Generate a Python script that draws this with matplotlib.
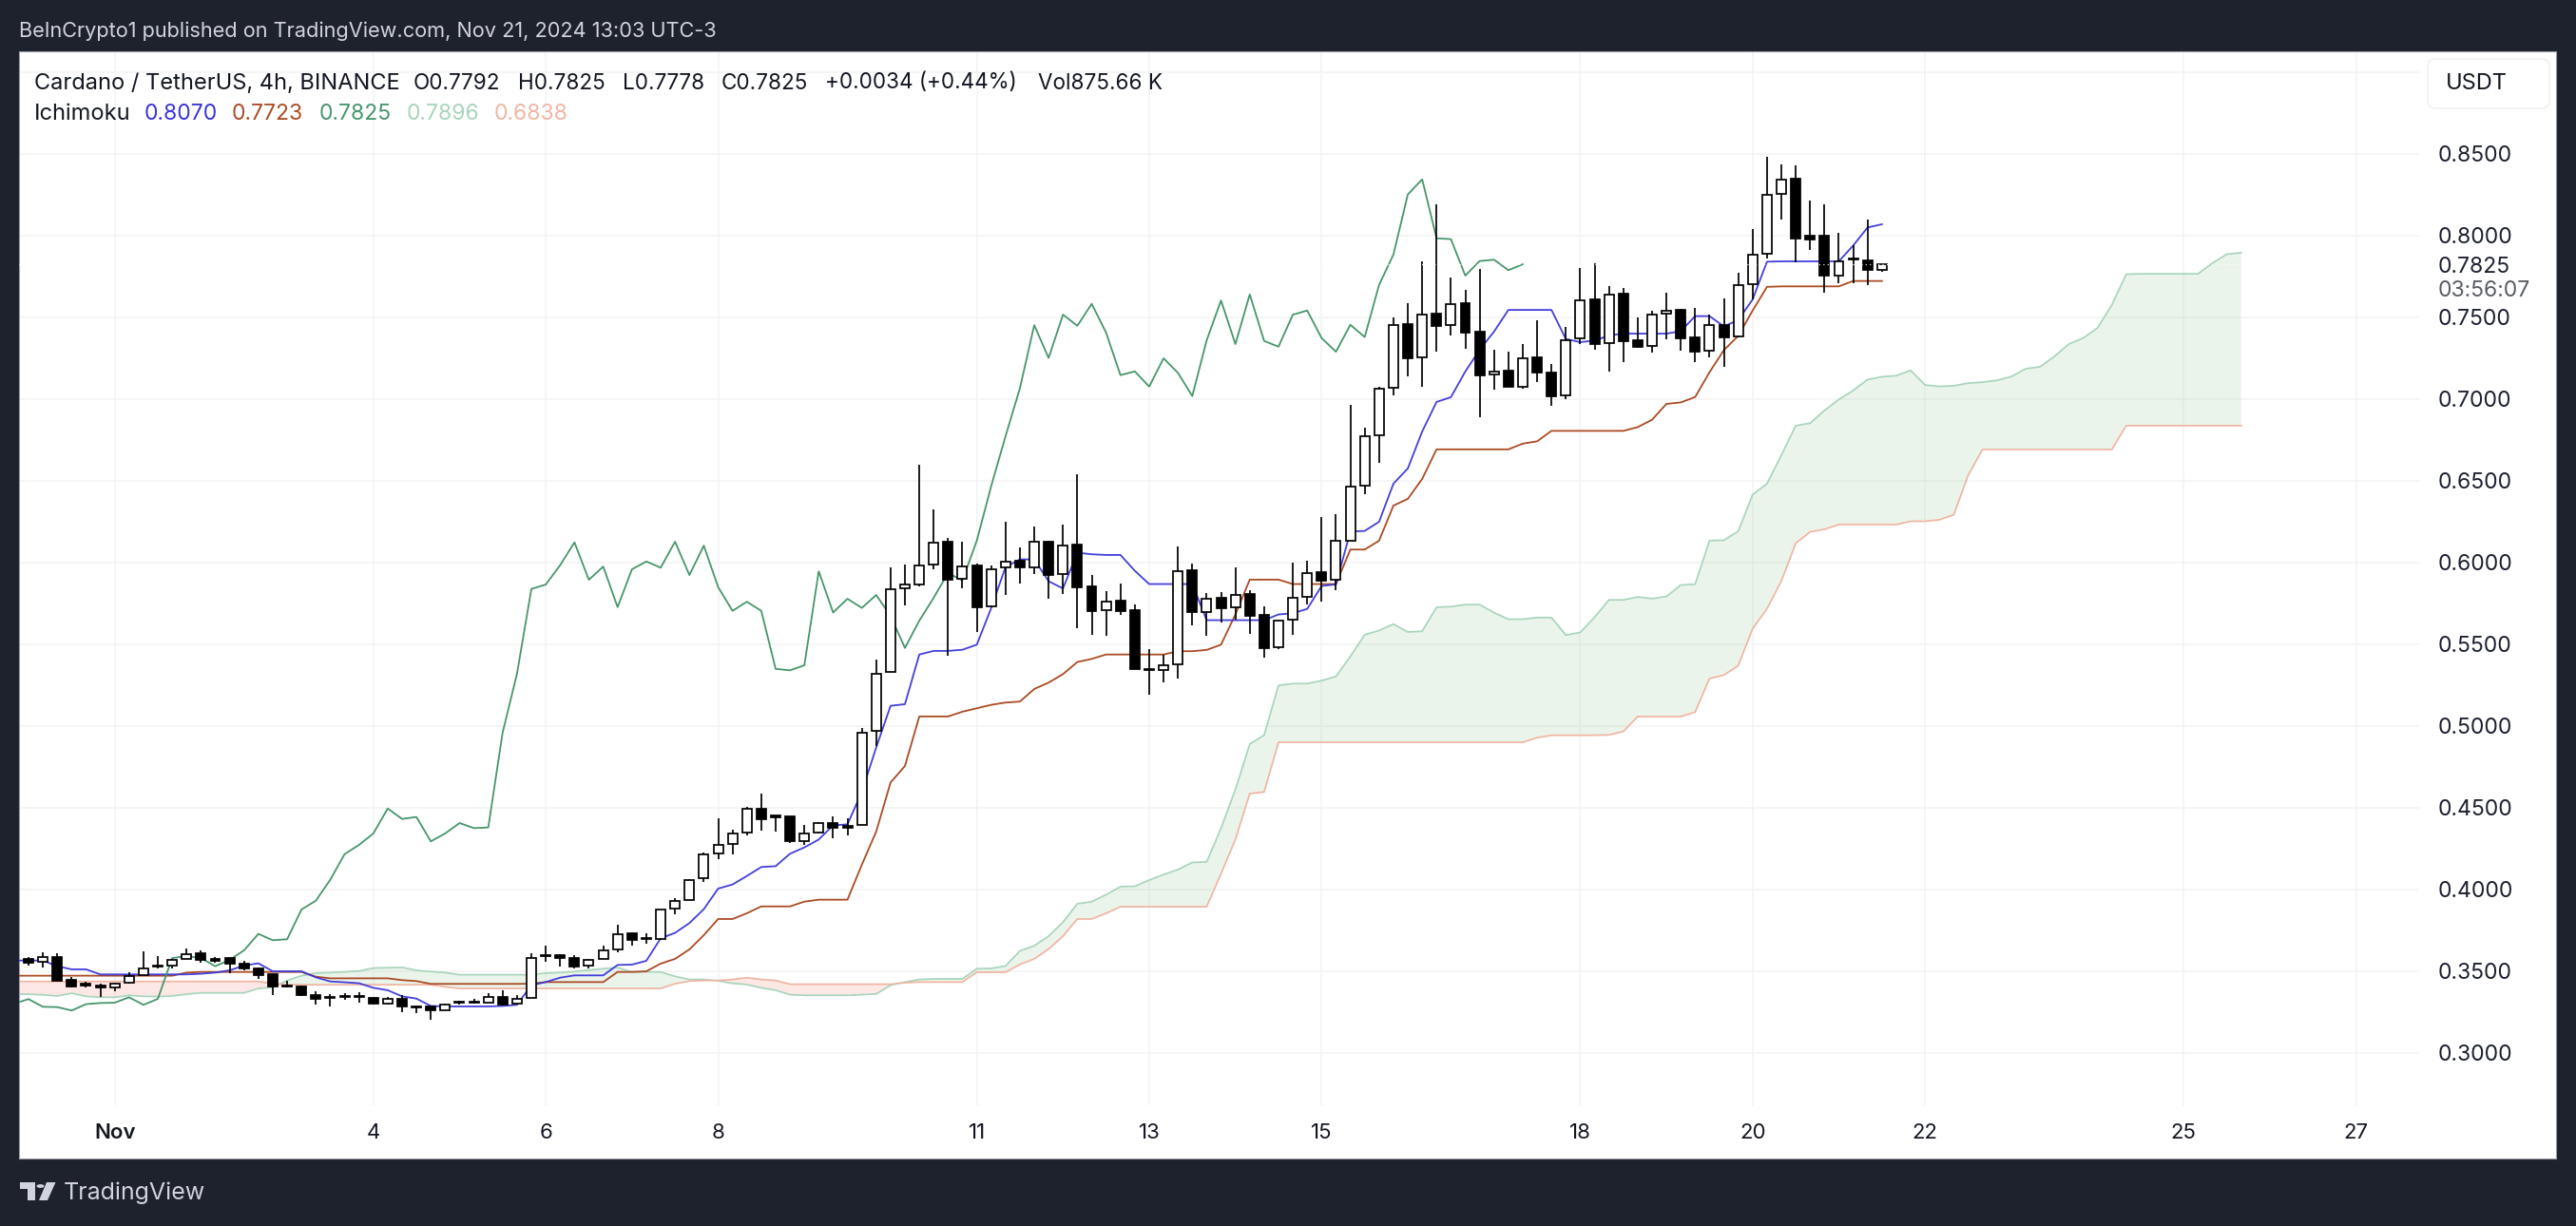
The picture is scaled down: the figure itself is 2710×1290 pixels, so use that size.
import numpy as np
import matplotlib
matplotlib.use("Agg")
import matplotlib.pyplot as plt
from matplotlib.patches import FancyBboxPatch, Polygon, Circle

opens = [.3578,.3556,.3589,.3446,.3423,.3415,.3399,.3432,.3479,.3535,
 .3537,.3576,.3608,.3574,.3580,.3547,.3516,.3481,.3413,.3409,
 .3353,.3343,.3347,.3347,.3335,.3304,.3330,.3287,.3283,.3264,
 .3312,.3314,.3310,.3341,.3300,.3337,.3599,.3597,.3581,.3535,
 .3578,.3634,.3733,.3704,.3698,.3886,.3938,.4070,.4221,.4281,
 .4349,.4496,.4452,.4446,.4295,.4349,.4409,.4391,.4395,.4971,
 .5333,.5843,.5868,.5986,.6128,.5903,.5982,.5732,.5971,.6011,
 .5971,.6128,.5930,.6108,.5854,.5709,.5765,.5709,.5350,.5343,
 .5378,.5951,.5697,.5783,.5725,.5806,.5680,.5480,.5651,.5792,
 .5940,.5895,.6134,.6471,.6781,.7070,.7457,.7256,.7521,.7453,
 .7585,.7411,.7149,.7172,.7077,.7254,.7161,.7021,.7372,.7608,
 .7343,.7643,.7358,.7325,.7521,.7546,.7376,.7296,.7455,.7384,
 .7703,.7888,.8256,.8347,.7998,.8000,.7756,.7858,.7851,.7792]
highs = [.3589,.3614,.3608,.3463,.3438,.3427,.3431,.3492,.3620,.3593,
 .3578,.3638,.3628,.3589,.3589,.3566,.3522,.3481,.3442,.3415,
 .3376,.3361,.3366,.3372,.3341,.3341,.3353,.3293,.3293,.3303,
 .3318,.3330,.3364,.3384,.3357,.3612,.3659,.3605,.3597,.3578,
 .3655,.3783,.3736,.3733,.3878,.3946,.4066,.4225,.4434,.4368,
 .4504,.4585,.4455,.4446,.4393,.4415,.4446,.4434,.4988,.5407,
 .5969,.5988,.6597,.6325,.6151,.6128,.5992,.5984,.6248,.6093,
 .6221,.6135,.6232,.6538,.5924,.5825,.5872,.5744,.5469,.5436,
 .6097,.5992,.5814,.5818,.5971,.5829,.5730,.5649,.6000,.6009,
 .6277,.6297,.6965,.6826,.7073,.7498,.7585,.7841,.8190,.7744,
 .7666,.7794,.7302,.7290,.7335,.7482,.7213,.7440,.7800,.7833,
 .7690,.7678,.7498,.7540,.7651,.7554,.7556,.7515,.7616,.7771,
 .8039,.8483,.8434,.8428,.8215,.8190,.8015,.7940,.8097,.7825]
lows = [.3535,.3525,.3444,.3399,.3403,.3345,.3380,.3427,.3479,.3519,
 .3519,.3574,.3551,.3551,.3487,.3504,.3454,.3357,.3403,.3351,
 .3299,.3283,.3324,.3310,.3295,.3295,.3252,.3246,.3205,.3260,
 .3295,.3303,.3306,.3291,.3295,.3337,.3560,.3531,.3519,.3519,
 .3574,.3618,.3659,.3667,.3694,.3851,.3934,.4045,.4186,.4217,
 .4333,.4360,.4357,.4287,.4275,.4345,.4316,.4333,.4395,.4878,
 .5333,.5740,.5856,.5961,.5430,.5845,.5575,.5728,.5802,.5872,
 .5930,.5779,.5808,.5599,.5558,.5552,.5682,.5350,.5194,.5267,
 .5290,.5616,.5554,.5635,.5651,.5566,.5420,.5469,.5558,.5744,
 .5761,.5831,.6134,.6419,.6612,.7025,.7139,.7077,.7290,.7391,
 .7310,.6891,.7058,.7077,.7066,.7104,.6961,.7000,.7337,.7302,
 .7170,.7227,.7316,.7287,.7368,.7296,.7228,.7258,.7199,.7380,
 .7610,.7862,.8101,.7839,.7915,.7653,.7711,.7707,.7698,.7778]
closes = [.3554,.3585,.3444,.3409,.3415,.3399,.3425,.3473,.3516,.3527,
 .3572,.3607,.3570,.3566,.3545,.3516,.3477,.3405,.3405,.3353,
 .3330,.3337,.3341,.3341,.3302,.3330,.3283,.3281,.3260,.3299,
 .3306,.3308,.3341,.3295,.3331,.3581,.3593,.3581,.3531,.3570,
 .3628,.3729,.3690,.3696,.3878,.3932,.4060,.4217,.4273,.4343,
 .4496,.4432,.4444,.4295,.4343,.4407,.4376,.4380,.4961,.5321,
 .5839,.5866,.5984,.6124,.5895,.5976,.5728,.5959,.6007,.5969,
 .6128,.5924,.6104,.5850,.5705,.5761,.5705,.5350,.5341,.5372,
 .5947,.5695,.5779,.5723,.5802,.5674,.5478,.5645,.5785,.5936,
 .5891,.6134,.6467,.6773,.7066,.7453,.7252,.7517,.7449,.7583,
 .7407,.7147,.7170,.7077,.7250,.7161,.7019,.7360,.7604,.7337,
 .7641,.7356,.7321,.7517,.7542,.7374,.7290,.7455,.7380,.7699,
 .7885,.8252,.8345,.7984,.7979,.7756,.7845,.7853,.7789,.7825]

conversion = [.3566,
 .3566,.3566,.3531,.3512,.3512,.3481,.3481,.3481,.3481,.3481,
 .3481,.3481,.3485,.3492,.3506,.3535,.3549,.3500,.3500,.3500,
 .3463,.3438,.3433,.3427,.3399,.3384,.3347,.3333,.3288,.3285,
 .3285,.3285,.3285,.3288,.3295,.3415,.3434,.3461,.3475,.3475,
 .3475,.3539,.3541,.3564,.3702,.3735,.3795,.3880,.4006,.4031,
 .4083,.4138,.4143,.4219,.4258,.4306,.4393,.4399,.4597,.4869,
 .5124,.5134,.5438,.5460,.5460,.5467,.5498,.5721,.5973,.6020,
 .6020,.5886,.5842,.6061,.6051,.6047,.6047,.5950,.5869,.5869,
 .5869,.5869,.5648,.5648,.5648,.5648,.5648,.5683,.5690,.5717,
 .5857,.5867,.6190,.6194,.6250,.6483,.6576,.6802,.6983,.7012,
 .7169,.7302,.7413,.7546,.7546,.7546,.7546,.7368,.7349,.7358,
 .7390,.7401,.7401,.7401,.7401,.7416,.7508,.7508,.7445,.7484,
 .7610,.7841,.7843,.7843,.7843,.7843,.7843,.7940,.8050,.8070]
base = [.3473,
 .3473,.3473,.3473,.3473,.3473,.3473,.3473,.3473,.3473,.3473,
 .3473,.3492,.3496,.3496,.3496,.3496,.3496,.3496,.3496,.3496,
 .3467,.3457,.3457,.3457,.3457,.3457,.3446,.3440,.3423,.3423,
 .3423,.3423,.3423,.3423,.3423,.3424,.3434,.3434,.3434,.3434,
 .3434,.3496,.3496,.3500,.3547,.3576,.3634,.3721,.3820,.3820,
 .3855,.3897,.3897,.3897,.3926,.3938,.3938,.3938,.4152,.4355,
 .4655,.4756,.5059,.5059,.5059,.5088,.5109,.5130,.5144,.5150,
 .5227,.5266,.5318,.5392,.5411,.5438,.5438,.5438,.5438,.5438,
 .5458,.5458,.5466,.5498,.5683,.5896,.5896,.5896,.5869,.5869,
 .5869,.5869,.6080,.6080,.6134,.6349,.6390,.6512,.6693,.6693,
 .6693,.6693,.6693,.6693,.6728,.6742,.6806,.6806,.6806,.6806,
 .6806,.6806,.6829,.6874,.6971,.6980,.7013,.7165,.7300,.7387,
 .7542,.7687,.7690,.7690,.7690,.7690,.7690,.7723,.7723,.7723]
lagging = [.3302,.3330,.3283,.3281,.3260,.3299,
 .3306,.3308,.3341,.3295,.3331,.3581,.3593,.3581,.3531,.3570,
 .3628,.3729,.3690,.3696,.3878,.3932,.4060,.4217,.4273,.4343,
 .4496,.4432,.4444,.4295,.4343,.4407,.4376,.4380,.4961,.5321,
 .5839,.5866,.5984,.6124,.5895,.5976,.5728,.5959,.6007,.5969,
 .6128,.5924,.6104,.5850,.5705,.5761,.5705,.5350,.5341,.5372,
 .5947,.5695,.5779,.5723,.5802,.5674,.5478,.5645,.5785,.5936,
 .5891,.6134,.6467,.6773,.7066,.7453,.7252,.7517,.7449,.7583,
 .7407,.7147,.7170,.7077,.7250,.7161,.7019,.7360,.7604,.7337,
 .7641,.7356,.7321,.7517,.7542,.7374,.7290,.7455,.7380,.7699,
 .7885,.8252,.8345,.7984,.7979,.7756,.7845,.7853,.7789,.7825]
span_a = [.3360,
 .3360,.3356,.3349,.3366,.3347,.3341,.3341,.3353,.3347,.3345,
 .3349,.3360,.3368,.3368,.3368,.3368,.3395,.3401,.3444,.3473,
 .3489,.3492,.3496,.3502,.3520,.3522,.3524,.3506,.3498,.3492,
 .3479,.3479,.3479,.3479,.3479,.3479,.3489,.3492,.3498,.3508,
 .3516,.3523,.3496,.3496,.3496,.3469,.3450,.3450,.3442,.3426,
 .3419,.3399,.3384,.3357,.3353,.3353,.3353,.3353,.3357,.3361,
 .3415,.3434,.3450,.3454,.3454,.3454,.3516,.3518,.3532,.3625,
 .3656,.3715,.3801,.3913,.3926,.3969,.4018,.4020,.4058,.4092,
 .4122,.4166,.4169,.4375,.4612,.4890,.4945,.5249,.5260,.5260,
 .5278,.5304,.5426,.5559,.5585,.5624,.5576,.5580,.5727,.5731,
 .5743,.5743,.5694,.5654,.5654,.5664,.5664,.5557,.5573,.5666,
 .5772,.5772,.5790,.5780,.5793,.5863,.5868,.6135,.6137,.6192,
 .6416,.6483,.6657,.6838,.6853,.6931,.6998,.7053,.7120,.7137,
 .7144,.7176,.7087,.7078,.7082,.7098,.7104,.7115,.7138,.7186,
 .7198,.7261,.7337,.7373,.7436,.7576,.7764,.7767,.7767,.7767,
 .7767,.7767,.7832,.7887,.7896]
span_b = [.3438,
 .3438,.3438,.3438,.3438,.3438,.3438,.3438,.3438,.3438,.3438,
 .3438,.3438,.3438,.3438,.3438,.3438,.3438,.3425,.3418,.3418,
 .3418,.3418,.3418,.3418,.3418,.3418,.3418,.3418,.3418,.3405,
 .3395,.3395,.3395,.3395,.3395,.3395,.3395,.3395,.3395,.3395,
 .3395,.3395,.3395,.3395,.3395,.3424,.3440,.3444,.3444,.3450,
 .3461,.3450,.3444,.3421,.3421,.3421,.3421,.3421,.3421,.3421,
 .3421,.3430,.3434,.3434,.3434,.3434,.3494,.3494,.3494,.3542,
 .3576,.3636,.3715,.3820,.3820,.3855,.3895,.3895,.3895,.3895,
 .3895,.3895,.3895,.4097,.4306,.4587,.4597,.4901,.4901,.4901,
 .4901,.4901,.4901,.4901,.4901,.4901,.4901,.4901,.4901,.4901,
 .4901,.4901,.4901,.4901,.4901,.4929,.4944,.4944,.4944,.4944,
 .4946,.4967,.5058,.5058,.5058,.5058,.5086,.5291,.5312,.5370,
 .5596,.5718,.5888,.6118,.6188,.6204,.6233,.6233,.6233,.6233,
 .6233,.6253,.6253,.6262,.6293,.6534,.6692,.6692,.6692,.6692,
 .6692,.6692,.6692,.6692,.6692,.6692,.6838,.6838,.6838,.6838,
 .6838,.6838,.6838,.6838,.6838]

price_ticks = [.30,.35,.40,.45,.50,.55,.60,.65,.70,.75,.80,.85]
grid_prices = price_ticks + [.90]
last_price = .7825
day_bars = [6,24,36,48,66,78,90,108,120,132,150,162]
day_labels = ["Nov","4","6","8","11","13","15","18","20","22","25","27"]

W, H = 2710, 1290
DARK = "#1e222d"
plt.rcParams["font.family"] = ["Inter", "Liberation Sans", "DejaVu Sans"]
fig = plt.figure(figsize=(W/100, H/100), dpi=100, facecolor=DARK)
L, R, T, B = 20, 2689, 54, 1219
ax = fig.add_axes([L/W, 1-B/H, (R-L)/W, (B-T)/H], facecolor="white")
ax.set_xlim((L-30)/15.115, (R-30)/15.115)
ax.set_ylim(.85-(B-162)/1720, .85+(162-T)/1720)
for s in ax.spines.values():
    s.set_color("#9a9da6"); s.set_linewidth(.8)

GRID = "#f2f3f4"
xmax_grid = (2545-30)/15.115
ax.hlines(grid_prices, ax.get_xlim()[0], xmax_grid, color=GRID, lw=1.1, zorder=1)
ax.vlines(day_bars, .268, ax.get_ylim()[1], color=GRID, lw=1.1, zorder=1)

bars = np.arange(len(closes))
xa = np.arange(-1, len(span_a)-1)
a, b = np.array(span_a), np.array(span_b)
ax.fill_between(xa, a, b, where=a>=b, interpolate=True, color=(67/255,160/255,71/255), alpha=.105, lw=0, zorder=2)
ax.fill_between(xa, a, b, where=a<b, interpolate=True, color=(244/255,67/255,54/255), alpha=.12, lw=0, zorder=2)
ax.plot(xa, a, color="#a9d5bc", lw=1.25, zorder=2.5)
ax.plot(xa, b, color="#efb6a3", lw=1.25, zorder=2.5)
xl = np.arange(-1, -1+len(conversion))
ax.plot(xl, base, color="#ab4b24", lw=1.3, zorder=3)
ax.plot(xl, conversion, color="#3a35d8", lw=1.3, zorder=3, alpha=.95)
ax.plot(np.arange(-1, -1+len(lagging)), lagging, color="#47966c", lw=1.3, zorder=3)

o, h, l, c = map(np.array, (opens, highs, lows, closes))
ax.vlines(bars, l, h, color="black", lw=1.25, zorder=4)
up = c >= o
ax.bar(bars[up], (c-o)[up], bottom=o[up], width=.66, facecolor="white", edgecolor="black", linewidth=1.25, zorder=4.2)
ax.bar(bars[~up], (c-o)[~up], bottom=o[~up], width=.66, facecolor="black", edgecolor="black", linewidth=1.25, zorder=4.2)
ax.hlines(last_price, ax.get_xlim()[0], xmax_grid, color="white", lw=.8, linestyles=(0,(1,3)), zorder=5)

ax.set_xticks(day_bars)
ax.set_xticklabels(day_labels, fontsize=16, color="#131722")
ax.get_xticklabels()[0].set_fontweight("semibold")
ax.tick_params(axis="x", length=0, pad=-27)
ax.yaxis.tick_right()
ax.set_yticks(price_ticks+[last_price])
ax.set_yticklabels(["%.4f" % p for p in price_ticks]+["%.4f" % last_price], fontsize=16.5, color="#1c2030", ha="left")
ax.tick_params(axis="y", length=0, pad=-89.3)

def ftext(x, y, s, **kw):
    kw.setdefault("fontsize", 16)
    kw.setdefault("va", "center")
    fig.text(x/W, 1-y/H, s, **kw)

ftext(20, 33, "BeInCrypto1 published on TradingView.com, Nov 21, 2024 13:03 UTC-3", color="#d1d4dc", fontsize=15.65)
tc = "#131722"
ftext(36, 87.5, "Cardano / TetherUS, 4h, BINANCE", color=tc, fontsize=17)
for x, s in [(435,"O0.7792"),(545,"H0.7825"),(655,"L0.7778"),(759,"C0.7825"),(868,"+0.0034 (+0.44%)"),(1092,"Vol875.66 K")]:
    ftext(x, 87.5, s, color=tc, fontsize=16.2)
ftext(36, 120.5, "Ichimoku", color=tc, fontsize=17)
for x, s, col in [(152,"0.8070","#3a35d8"),(244,"0.7723","#ab4b24"),(336,"0.7825","#47966c"),(428,"0.7896","#a9d5bc"),(520,"0.6838","#efb6a3")]:
    ftext(x, 120.5, s, color=col, fontsize=16.5)

ftext(2565, 306, "03:56:07", color="#5a5d66", fontsize=16.5)
box = FancyBboxPatch((2554/W, 1-114/H), 128/W, 52/H, boxstyle="round,pad=0,rounding_size=0.003",
                     transform=fig.transFigure, fc="white", ec="#eceded", lw=1.0, mutation_aspect=2.1, zorder=6)
fig.add_artist(box)
ftext(2573, 88, "USDT", color=tc, fontsize=17, zorder=7)

lc = "#d1d4dc"
def P(pts):
    return [(x/W, 1-y/H) for x, y in pts]
fig.add_artist(Polygon(P([(21,1244),(37,1244),(37,1263),(29,1263),(29,1251),(21,1251)]), closed=True, transform=fig.transFigure, fc=lc, ec="none"))
fig.add_artist(Polygon(P([(49,1244),(58.5,1244),(50,1263),(41,1263)]), closed=True, transform=fig.transFigure, fc=lc, ec="none"))
fig.add_artist(Circle((42.5/W, 1-1248/H), 4/W, transform=fig.transFigure, fc=lc, ec="none"))
ftext(67, 1255, "TradingView", color=lc, fontsize=18)

fig.savefig("out.png", dpi=100, facecolor=DARK)
